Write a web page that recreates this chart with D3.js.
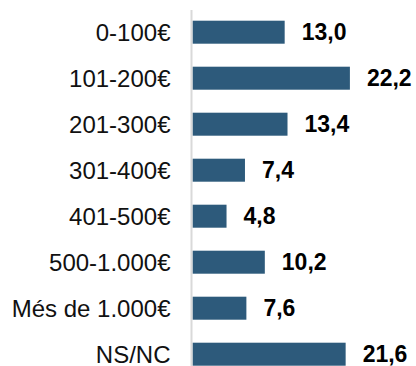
<!DOCTYPE html>
<html>
<head>
<meta charset="utf-8">
<script src="https://cdn.jsdelivr.net/npm/d3@7"></script>
<style>
  html, body { margin: 0; padding: 0; background: #fff; }
  svg { display: block; font-family: "Liberation Sans", Arial, sans-serif; }
</style>
</head>
<body>
<svg id="chart" width="416" height="366"></svg>
<script>
// Spending brackets and share of respondents (%)
const categories = ["0-100€", "101-200€", "201-300€", "301-400€", "401-500€", "500-1.000€", "Més de 1.000€", "NS/NC"];
const values = [13.0, 22.2, 13.4, 7.4, 4.8, 10.2, 7.6, 21.6];
const valueLabels = ["13,0", "22,2", "13,4", "7,4", "4,8", "10,2", "7,6", "21,6"];

const svg = d3.select("#chart");
const axisX = 192.5;

const x = d3.scaleLinear().domain([0, 25]).range([axisX, axisX + 25 * 7.09]);
const y = d3.scaleBand()
  .domain(categories)
  .range([9.2, 377.2])
  .paddingInner(0.5)
  .paddingOuter(0.25);

// Bars
svg.append("g")
  .selectAll("rect")
  .data(categories)
  .join("rect")
  .attr("x", x(0))
  .attr("y", d => y(d))
  .attr("width", (d, i) => x(values[i]) - x(0))
  .attr("height", y.bandwidth())
  .attr("fill", "#2d5a7b");

// Category axis (vertical line only, labels on the left)
const yAxis = d3.axisLeft(y).tickSize(0).tickPadding(21);
const gAxis = svg.append("g")
  .attr("transform", `translate(${axisX - 1},0)`)
  .call(yAxis);
gAxis.select(".domain")
  .attr("d", `M0,10V366`)
  .attr("stroke", "#d9d9d9")
  .attr("stroke-width", 2);
gAxis.selectAll(".tick text")
  .attr("font-family", "'Liberation Sans', Arial, sans-serif")
  .attr("font-size", 24)
  .attr("fill", "#111")
  .attr("dy", "0.36em");

// Value labels
svg.append("g")
  .selectAll("text")
  .data(categories)
  .join("text")
  .attr("x", (d, i) => x(values[i]) + 17)
  .attr("y", d => y(d) + y.bandwidth() / 2)
  .attr("dy", "0.36em")
  .attr("font-size", 23)
  .attr("font-weight", "bold")
  .attr("fill", "#000")
  .text((d, i) => valueLabels[i]);
</script>
</body>
</html>
